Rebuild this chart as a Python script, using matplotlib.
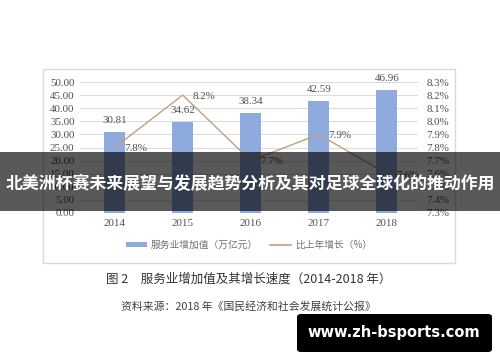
import matplotlib
matplotlib.use("Agg")
import matplotlib.pyplot as plt
from matplotlib.patches import Rectangle, FancyBboxPatch
from matplotlib.lines import Line2D
import numpy as np

years = ["2014", "2015", "2016", "2017", "2018"]
value_added = [30.81, 34.62, 38.34, 42.59, 46.96]
growth = [7.8, 8.2, 7.7, 7.9, 7.6]
left_ticks = [0, 5, 10, 15, 20, 25, 30, 35, 40, 45, 50]
right_ticks = [7.3, 7.4, 7.5, 7.6, 7.7, 7.8, 7.9, 8.0, 8.1, 8.2, 8.3]
legend_labels = ["服务业增加值（万亿元）", "比上年增长（%）"]
title_text = "北美洲杯赛未来展望与发展趋势分析及其对足球全球化的推动作用"
caption = "图 2　服务业增加值及其增长速度（2014-2018 年）"
source = "资料来源：2018 年《国民经济和社会发展统计公报》"
watermark = "www.zh-bsports.com"

W, H = 500, 362
fig = plt.figure(figsize=(5, 3.62), dpi=100)
fig.patch.set_facecolor("white")

serif = ["Liberation Serif", "Noto Sans CJK SC"]
cjk = ["Noto Sans CJK SC", "DejaVu Sans"]
bar_color = "#8faadc"
line_color = "#c0a07e"
text_color = "#505050"
fs = 7.9

def fx(px):
    return px / W

def fy(py):
    return 1 - py / H

# chart frame
fig.patches.append(Rectangle((fx(43), fy(263)), fx(455) - fx(43), fy(69) - fy(263),
                             transform=fig.transFigure, facecolor="white",
                             edgecolor="#d9d9d9", lw=1.0, zorder=-1))

ax = fig.add_axes([fx(80), fy(213), fx(418) - fx(80), fy(82) - fy(213)])
ax.set_facecolor("none")
x = np.arange(len(years))
ax.bar(x, value_added, width=0.31, color=bar_color, zorder=2)
ax.set_ylim(0, 50)
ax.set_xlim(-0.51, 4.46)
ax.set_yticks(left_ticks)
ax.set_yticklabels([f"{v:.2f}" for v in left_ticks], fontfamily=serif, fontsize=fs, color=text_color)
ax.set_xticks(x)
ax.set_xticklabels(years, fontfamily=serif, fontsize=fs, color=text_color)
ax.tick_params(length=0, pad=4)
ax.grid(axis="y", color="#dcdcdc", lw=0.8, zorder=0)
for s in ax.spines.values():
    s.set_visible(False)
for xi, v in zip(x, value_added):
    ax.annotate(f"{v:.2f}", (xi, v), xytext=(0, 5), textcoords="offset points",
                ha="center", va="bottom", fontfamily=serif, fontsize=fs, color=text_color)

ax2 = ax.twinx()
ax2.plot(x, growth, color=line_color, lw=1.0, zorder=3)
ax2.set_ylim(7.3, 8.3)
ax2.set_yticks(right_ticks)
ax2.set_yticklabels([f"{v:.1f}%" for v in right_ticks], fontfamily=serif, fontsize=fs, color=text_color)
ax2.tick_params(length=0, pad=6)
for s in ax2.spines.values():
    s.set_visible(False)
for xi, g in zip(x, growth):
    ax2.annotate(f"{g:.1f}%", (xi, g), xytext=(7, -1), textcoords="offset points",
                 ha="left", va="center", fontfamily=serif, fontsize=fs, color=text_color)

handles = [Rectangle((0, 0), 1, 1, facecolor=bar_color, edgecolor="none"),
           Line2D([0], [0], color=line_color, lw=1.2)]
fig.legend(handles, legend_labels, loc="center", bbox_to_anchor=(fx(249), fy(245)),
           ncol=2, frameon=False, prop={"family": cjk, "size": 7}, labelcolor="#707070",
           handlelength=2.2, handleheight=0.5, columnspacing=1.2, handletextpad=0.4)

fig.text(fx(249), fy(279), caption, ha="center", va="center", fontfamily=cjk,
         fontsize=9, color="#333333")
fig.text(fx(248), fy(306), source, ha="center", va="center", fontfamily=cjk,
         fontsize=7.8, color="#404040")

# banner overlay
fig.patches.append(Rectangle((0, fy(211)), 1, fy(152) - fy(211), transform=fig.transFigure,
                             facecolor="black", alpha=0.65, edgecolor="none", zorder=10))
fig.text(0.5, fy(184), title_text, ha="center", va="center", fontfamily=cjk,
         fontweight="bold", fontsize=12.2, color="white", zorder=11)

# watermark
fig.patches.append(FancyBboxPatch((fx(297), fy(352)), fx(492) - fx(297), fy(314) - fy(352),
                                  boxstyle="round,pad=0,rounding_size=0.008",
                                  transform=fig.transFigure, facecolor="black",
                                  edgecolor="none", zorder=10))
fig.text(fx(394), fy(333), watermark, ha="center", va="center", fontfamily="DejaVu Sans",
         fontweight="bold", fontsize=10.5, color="white", zorder=11)

fig.savefig("out.png", dpi=100)
